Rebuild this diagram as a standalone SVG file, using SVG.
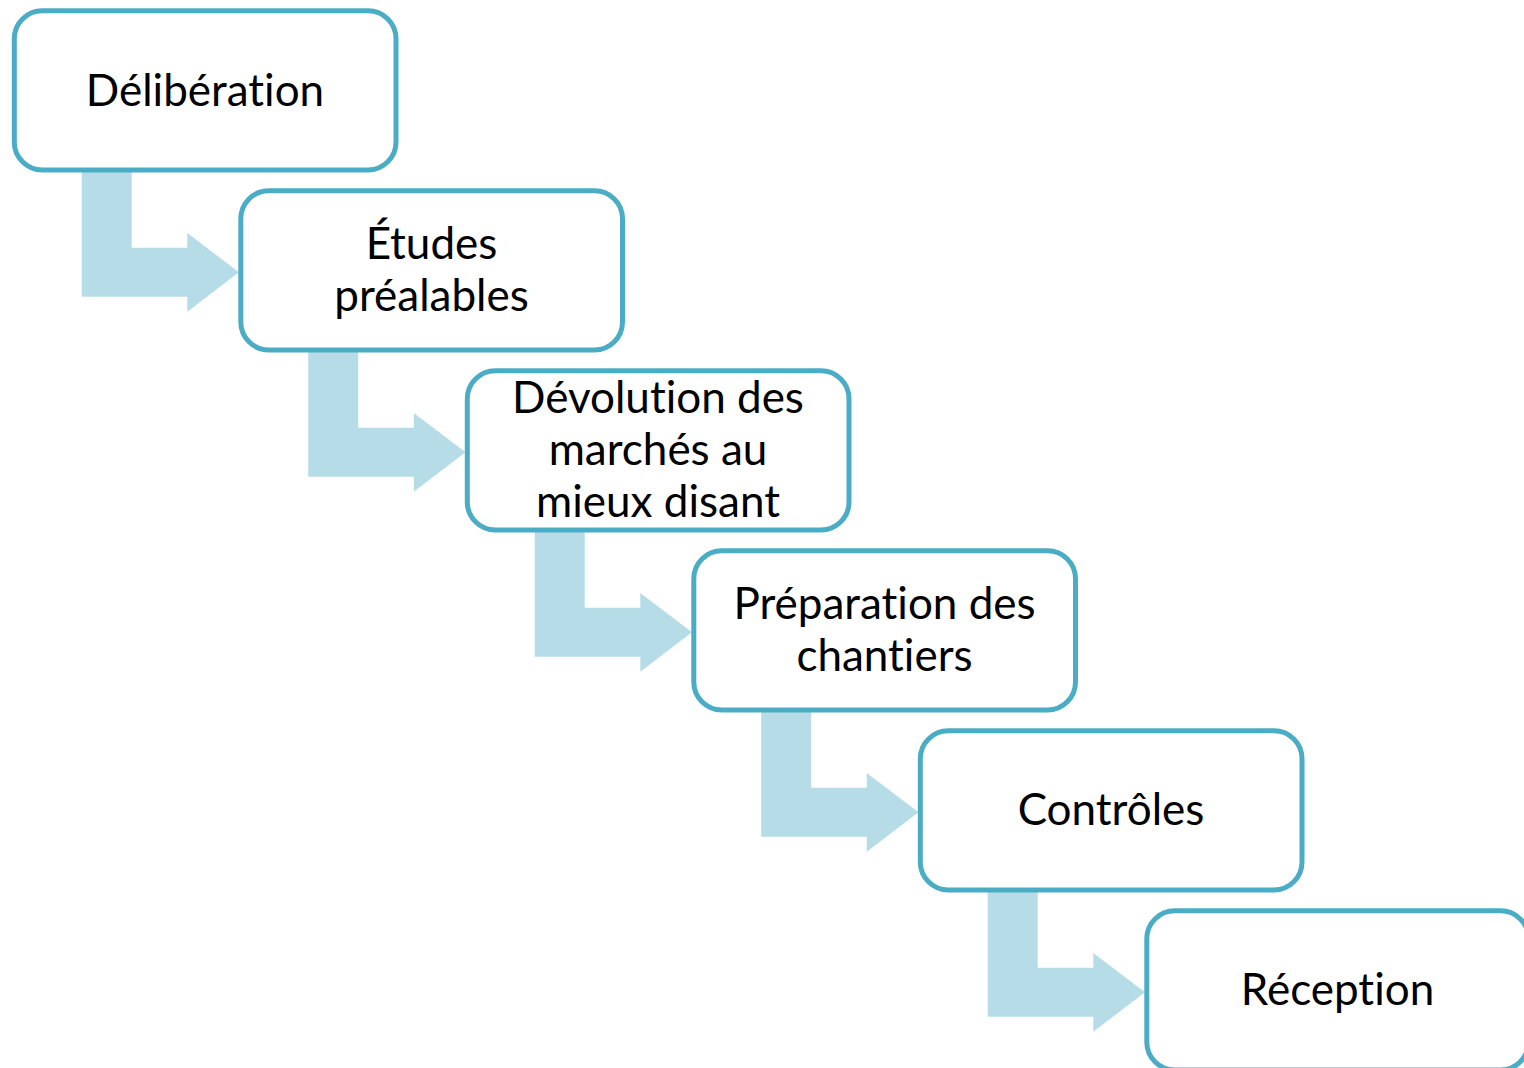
<svg xmlns="http://www.w3.org/2000/svg" width="1524" height="1068" viewBox="0 0 1524 1068">
<style>
.box{fill:#FFFFFF;stroke:#4BACC6;stroke-width:5}
.arr{fill:#B6DDE7}
text{font-family:Lato,"Liberation Sans",sans-serif;font-size:44px;fill:#000000;text-anchor:middle;font-variant-ligatures:none;font-feature-settings:"liga" 0}
</style>
<defs>
<polygon id="bend" points="0,0 50,0 50,77.7 105.6,77.7 105.6,63 157.3,102.3 105.6,141.7 105.6,126.7 0,126.7"/>
</defs>
<rect width="1524" height="1068" fill="#FFFFFF"/>
<g id="connectors">
<use href="#bend" class="arr" x="81.7" y="170"/>
<use href="#bend" class="arr" x="308.2" y="350"/>
<use href="#bend" class="arr" x="534.7" y="530"/>
<use href="#bend" class="arr" x="761.2" y="710"/>
<use href="#bend" class="arr" x="987.7" y="890"/>
</g>
<g id="node1"><rect class="box" x="14.3" y="10.7" width="381.7" height="159.3" rx="28"/><text x="205" y="106">Délibération</text></g>
<g id="node2"><rect class="box" x="240.8" y="190.7" width="381.7" height="159.3" rx="28"/><text x="431.5" y="259">Études</text><text x="431.5" y="311">préalables</text></g>
<g id="node3"><rect class="box" x="467.3" y="370.7" width="381.7" height="159.3" rx="28"/><text x="658" y="413">Dévolution des</text><text x="658" y="465">marchés au</text><text x="658" y="517">mieux disant</text></g>
<g id="node4"><rect class="box" x="693.8" y="550.7" width="381.7" height="159.3" rx="28"/><text x="884.5" y="619">Préparation des</text><text x="884.5" y="671">chantiers</text></g>
<g id="node5"><rect class="box" x="920.3" y="730.7" width="381.7" height="159.3" rx="28"/><text x="1111" y="825">Contrôles</text></g>
<g id="node6"><rect class="box" x="1146.8" y="910.7" width="381.7" height="159.3" rx="28"/><text x="1337.5" y="1005">Réception</text></g>
</svg>
